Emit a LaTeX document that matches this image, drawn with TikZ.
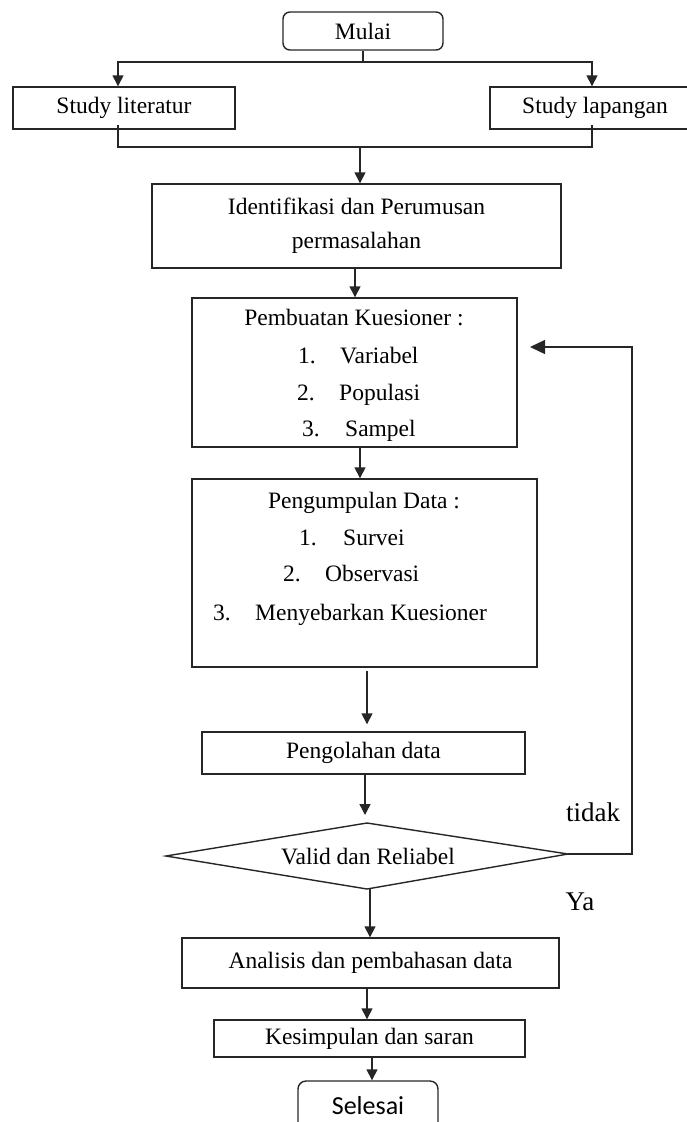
\documentclass[tikz,border=0pt]{standalone}
\usepackage{fontspec}
\setmainfont{Liberation Serif}
\newfontfamily\calib{Carlito}
\usetikzlibrary{arrows.meta,calc}
\begin{document}
\begin{tikzpicture}[x=1pt,y=-1pt,
  line/.style={line width=1.4pt,draw=black!85},
  boxs/.style={draw=black!85,line width=1.4pt,inner sep=0pt,font=\fontsize{23.5}{38}\selectfont,align=center},
  txt/.style={inner sep=0pt,font=\fontsize{23.5}{28}\selectfont},
  arr/.style={line,-{Triangle[width=11pt,length=11pt]}},
  fbarr/.style={line,-{Triangle[width=14pt,length=15pt]}}]
\useasboundingbox (0,0) rectangle (686,1122);
% boxes
\node[boxs,rounded corners=7pt,minimum width=160pt,minimum height=38pt] (mulai) at (363,31) {Mulai};
\node[boxs,minimum width=222pt,minimum height=42pt] (lit) at (124,108) {Study literatur};
\node[boxs,minimum width=210pt,minimum height=42pt] (lap) at (595,108) {Study lapangan};
\node[boxs,minimum width=409pt,minimum height=84pt] (ident) at (356.5,226) {Identifikasi dan Perumusan\\[-4pt]permasalahan};
\node[boxs,minimum width=325pt,minimum height=149pt] (pemb) at (354.5,372.5) {};
\node[boxs,minimum width=345pt,minimum height=188pt] (peng) at (364.5,573) {};
\node[boxs,minimum width=323pt,minimum height=42pt] (olah) at (363.5,753) {Pengolahan data};
\node[boxs,minimum width=377pt,minimum height=50pt] (anal) at (370.5,963) {Analisis dan pembahasan data};
\node[boxs,minimum width=311pt,minimum height=37pt] (kesim) at (369.5,1038.5) {Kesimpulan dan saran};
\node[boxs,rounded corners=8pt,minimum width=140pt,minimum height=64pt] (sel) at (368,1113) {};
\node[txt,font=\calib\fontsize{26}{30}\selectfont] (seltxt) at (368,1106) {Selesai};
% list texts
\node[txt,anchor=base] (pembh) at (354,325) {Pembuatan Kuesioner :};
\node[txt,anchor=base west] (p1n) at (298,363) {1.};
\node[txt,anchor=base west] (p1) at (340,363) {Variabel};
\node[txt,anchor=base west] (p2n) at (297,400) {2.};
\node[txt,anchor=base west] (p2) at (339,400) {Populasi};
\node[txt,anchor=base west] (p3n) at (302,436) {3.};
\node[txt,anchor=base west] (p3) at (345,436) {Sampel};
\node[txt,anchor=base] (pengh) at (364,508) {Pengumpulan Data :};
\node[txt,anchor=base west] (g1n) at (299,545) {1.};
\node[txt,anchor=base west] (g1) at (343,545) {Survei};
\node[txt,anchor=base west] (g2n) at (283,581) {2.};
\node[txt,anchor=base west] (g2) at (325,581) {Observasi};
\node[txt,anchor=base west] (g3n) at (213,620) {3.};
\node[txt,anchor=base west] (g3) at (255,620) {Menyebarkan Kuesioner};
% diamond
\coordinate (vtop) at (367,823);
\coordinate (vbot) at (367,889);
\coordinate (vleft) at (166,856);
\coordinate (vright) at (568,854);
\draw[line] (vtop) -- (vright) -- (vbot) -- (vleft) -- cycle;
\node[txt] (valid) at (368,857) {Valid dan Reliabel};
\node[txt,font=\fontsize{27}{32}\selectfont] (tidak) at (593,812) {tidak};
\node[txt,font=\fontsize{27}{32}\selectfont] (ya) at (580,902) {Ya};
% top connectors
\coordinate (ms) at (363,62);
\coordinate (la) at (118,62);
\coordinate (ra) at (592,62);
\coordinate (lb) at (118,147);
\coordinate (rb) at (592,147);
\coordinate (mb) at (360,147);
\draw[line] (mulai.south) -- (ms);
\draw[arr] (ms) -- (la) -- (la |- lit.north);
\draw[arr] (ms) -- (ra) -- (ra |- lap.north);
\draw[line] ([yshift=5pt]la |- lit.south) -- (lb) -- (rb) -- ([yshift=5pt]ra |- lap.south);
\draw[arr] (mb) -- (mb |- ident.north);
% vertical flow
\draw[arr] ([xshift=-1.5pt]ident.south) -- ([xshift=-1.5pt]ident.south |- pemb.north);
\draw[arr] ([xshift=5.5pt]pemb.south) -- ([xshift=5.5pt]pemb.south |- peng.north);
\draw[arr] ([xshift=2.5pt,yshift=-3pt]peng.south) -- ([xshift=2.5pt,yshift=7pt]peng.south |- olah.north);
\draw[arr] ([xshift=1.5pt]olah.south) -- ([xshift=1.5pt,yshift=8pt]olah.south |- vtop);
\draw[arr] ([xshift=3pt]vbot) -- ([xshift=3pt]vbot |- anal.north);
\draw[arr] ([xshift=-3.5pt]anal.south) -- ([xshift=-3.5pt]anal.south |- kesim.north);
\draw[arr] ([xshift=2.5pt]kesim.south) -- ([xshift=2.5pt]kesim.south |- sel.north);
% feedback
\coordinate (fbx) at (632,854);
\coordinate (fbend) at (530,347);
\draw[fbarr] (vright) -- (fbx) |- (fbend);
\end{tikzpicture}
\end{document}
